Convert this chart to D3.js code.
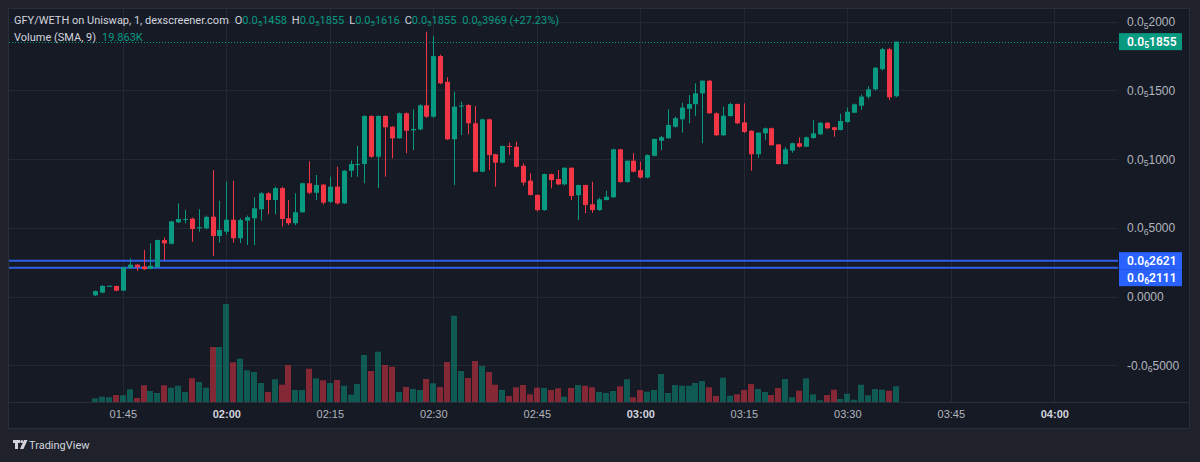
<!DOCTYPE html>
<html>
<head>
<meta charset="utf-8">
<script src="https://cdn.jsdelivr.net/npm/d3@7"></script>
<style>
  html, body { margin: 0; padding: 0; background: #1f222b; }
  svg { display: block; font-family: Roboto, "Noto Sans", "DejaVu Sans", sans-serif; }
</style>
</head>
<body>
<svg id="chart" width="1200" height="462"></svg>
<script>
// 1 minute bars, prices in units of 1e-6 WETH, volume in K
const times = [
  "01:41","01:42","01:43","01:44","01:45","01:46","01:47","01:48","01:49","01:50",
  "01:51","01:52","01:53","01:54","01:55","01:56","01:57","01:58","01:59","02:00",
  "02:01","02:02","02:03","02:04","02:05","02:06","02:07","02:08","02:09","02:10",
  "02:11","02:12","02:13","02:14","02:15","02:16","02:17","02:18","02:19","02:20",
  "02:21","02:22","02:23","02:24","02:25","02:26","02:27","02:28","02:29","02:30",
  "02:31","02:32","02:33","02:34","02:35","02:36","02:37","02:38","02:39","02:40",
  "02:41","02:42","02:43","02:44","02:45","02:46","02:47","02:48","02:49","02:50",
  "02:51","02:52","02:53","02:54","02:55","02:56","02:57","02:58","02:59","03:00",
  "03:01","03:02","03:03","03:04","03:05","03:06","03:07","03:08","03:09","03:10",
  "03:11","03:12","03:13","03:14","03:15","03:16","03:17","03:18","03:19","03:20",
  "03:21","03:22","03:23","03:24","03:25","03:26","03:27","03:28","03:29","03:30",
  "03:31","03:32","03:33","03:34","03:35","03:36","03:37"
];
const open = [
  0.010,0.030,0.078,0.078,0.044,0.208,0.233,0.220,0.203,0.214,
  0.412,0.385,0.541,0.563,0.568,0.500,0.497,0.582,0.441,0.473,
  0.560,0.425,0.553,0.570,0.636,0.752,0.703,0.790,0.570,0.534,
  0.614,0.825,0.756,0.815,0.690,0.800,0.679,0.916,0.960,0.965,
  1.314,1.018,1.314,1.236,1.152,1.334,1.210,1.217,1.392,1.309,
  1.750,1.563,1.145,1.385,1.394,1.261,0.909,1.290,1.036,0.975,
  1.096,1.090,0.952,0.844,0.740,0.630,0.892,0.856,0.817,0.938,
  0.738,0.812,0.672,0.630,0.703,0.723,1.072,0.834,0.989,0.920,
  0.866,1.025,1.134,1.152,1.236,1.290,1.367,1.400,1.479,1.571,
  1.334,1.174,1.314,1.401,1.268,1.207,1.036,1.188,1.225,1.108,
  0.965,1.062,1.116,1.091,1.154,1.181,1.265,1.232,1.212,1.270,
  1.338,1.389,1.455,1.508,1.655,1.800,1.458
];
const high = [
  0.045,0.085,0.082,0.080,0.216,0.279,0.236,0.340,0.388,0.415,
  0.430,0.550,0.679,0.630,0.575,0.636,0.590,0.921,0.698,0.836,
  0.844,0.570,0.590,0.723,0.760,0.760,0.800,0.800,0.703,0.752,
  0.830,0.985,0.885,0.820,0.873,0.945,0.920,0.990,1.096,1.320,
  1.320,1.320,1.320,1.240,1.340,1.340,1.363,1.400,1.927,1.896,
  1.760,1.596,1.490,1.418,1.400,1.387,1.295,1.295,1.040,1.100,
  1.120,1.127,0.970,0.897,0.745,0.895,0.895,0.921,0.940,0.940,
  0.815,0.815,0.836,0.720,0.771,1.075,1.075,0.990,1.043,0.982,
  1.035,1.150,1.170,1.363,1.310,1.411,1.467,1.552,1.575,1.575,
  1.340,1.382,1.410,1.405,1.406,1.210,1.195,1.230,1.230,1.110,
  1.090,1.120,1.159,1.165,1.285,1.270,1.270,1.235,1.330,1.375,
  1.405,1.470,1.530,1.670,1.810,1.810,1.855
];
const low = [
  0.005,0.025,0.075,0.040,0.040,0.205,0.187,0.195,0.200,0.210,
  0.267,0.380,0.535,0.534,0.400,0.473,0.490,0.296,0.393,0.450,
  0.393,0.390,0.376,0.376,0.553,0.600,0.600,0.510,0.520,0.520,
  0.610,0.745,0.703,0.670,0.680,0.670,0.675,0.870,0.873,0.825,
  1.010,0.790,0.873,1.007,1.150,1.043,1.067,1.210,1.300,1.300,
  1.545,1.140,0.812,1.176,1.180,0.905,0.905,0.921,0.800,0.970,
  1.030,0.940,0.809,0.735,0.620,0.625,0.788,0.810,0.810,0.703,
  0.558,0.607,0.610,0.625,0.700,0.720,0.830,0.830,0.905,0.860,
  0.860,1.020,1.067,1.150,1.230,1.193,1.261,1.314,1.116,1.330,
  1.170,1.170,1.310,1.255,1.190,0.916,1.010,1.140,1.100,0.960,
  0.960,1.047,1.085,1.088,1.150,1.178,1.220,1.164,1.210,1.265,
  1.335,1.358,1.440,1.500,1.644,1.430,1.450
];
const close = [
  0.040,0.078,0.079,0.044,0.214,0.233,0.214,0.200,0.225,0.412,
  0.388,0.548,0.565,0.565,0.492,0.505,0.580,0.441,0.485,0.560,
  0.425,0.558,0.578,0.643,0.752,0.703,0.790,0.565,0.534,0.614,
  0.825,0.756,0.812,0.684,0.800,0.679,0.916,0.965,0.965,1.314,
  1.018,1.314,1.232,1.152,1.334,1.207,1.220,1.392,1.309,1.750,
  1.552,1.145,1.382,1.390,1.261,0.909,1.290,1.030,0.975,1.096,
  1.095,0.945,0.830,0.740,0.630,0.892,0.848,0.817,0.938,0.732,
  0.812,0.667,0.630,0.708,0.727,1.072,0.834,0.989,0.909,0.866,
  1.030,1.147,1.160,1.249,1.298,1.375,1.401,1.479,1.571,1.334,
  1.174,1.316,1.401,1.261,1.198,1.036,1.193,1.225,1.101,0.965,
  1.072,1.116,1.091,1.159,1.188,1.265,1.225,1.212,1.278,1.345,
  1.399,1.455,1.508,1.665,1.800,1.450,1.855
];
const volume = [
  7.4,10.5,9.4,13.9,13.3,25.3,8.0,33.2,21.9,17.9,
  33.2,28.5,32.4,19.9,47.2,39.8,28.5,109.5,109.5,195.0,
  79.0,86.2,63.1,59.7,37.8,19.9,45.2,34.4,73.6,23.9,
  23.9,66.3,47.2,43.2,37.8,43.8,32.4,14.5,35.8,93.5,
  61.7,100.1,73.6,70.2,19.9,29.9,25.9,23.9,45.8,37.2,
  29.9,79.6,171.7,61.7,47.8,81.6,71.6,59.7,34.4,23.9,
  11.9,29.3,33.8,15.3,28.5,27.9,23.9,27.3,10.5,27.9,
  33.8,32.4,29.3,19.9,17.9,21.9,31.2,45.2,9.4,23.9,
  20.5,23.9,55.7,17.9,33.8,32.4,32.4,37.8,41.8,29.3,
  11.9,48.4,12.5,15.3,23.9,35.8,25.9,19.9,13.9,27.9,
  45.8,9.4,22.5,47.2,15.3,3.4,13.9,24.5,6.0,16.5,
  4.6,34.4,13.3,25.9,24.5,22.5,31.2
];

const timeTicks = ["01:45","02:00","02:15","02:30","02:45","03:00","03:15","03:30","03:45","04:00"];
const priceTicks = [-0.5, 0, 0.5, 1.0, 1.5, 2.0];
const priceLines = [0.2621, 0.2111];           // the two blue horizontal lines
const legendOHLC = [["O", 1.458], ["H", 1.855], ["L", 1.616], ["C", 1.855]];
const legendChange = [0.3969, 27.23];
const volSma = 19.863;

const UNIT = 1e-6;
const UP = "#089981", DOWN = "#f23645";
const UP_VOL = "rgba(8,153,129,0.5)", DOWN_VOL = "rgba(242,54,69,0.5)";
const GRID = "#242834", TEXT = "#b2b5be";

const parse = d3.timeParse("%H:%M");
const bars = times.map((t, i) => ({
  t: parse(t), o: open[i], h: high[i], l: low[i], c: close[i], v: volume[i]
}));

const pane = { left: 8, top: 8, right: 1190, bottom: 429 };
const plotRight = 1118, plotBottom = 402;

// dexscreener style 0.0₅2000 -> parts [sign+"0.0", zeros, digits]
function priceParts(v) {
  if (Math.abs(v) < 1e-15) return ["0.0000", "", ""];
  const a = Math.abs(v);
  const e = Math.floor(Math.log10(a) + 1e-9);
  const zeros = -e - 1;
  const digits = Math.round(a * Math.pow(10, zeros + 4));
  return [(v < 0 ? "-" : "") + "0.0", String(zeros), String(digits)];
}
function writePrice(textSel, v, size) {
  const [head, sub, tail] = priceParts(v);
  textSel.text(null);
  textSel.append("tspan").text(head);
  if (sub) {
    textSel.append("tspan").attr("font-size", (size * 0.72) + "px").attr("dy", 2.5).text(sub);
    textSel.append("tspan").attr("dy", -2.5).text(tail);
  }
}

const svg = d3.select("#chart");
svg.append("rect").attr("width", 1200).attr("height", 462).attr("fill", "#1f222b");
svg.append("rect")
  .attr("x", pane.left + 0.5).attr("y", pane.top + 0.5)
  .attr("width", pane.right - pane.left - 1).attr("height", pane.bottom - pane.top - 1)
  .attr("fill", "#161a25").attr("stroke", "#2a2e39");

const x = d3.scaleTime()
  .domain([parse("01:45"), parse("04:00")])
  .range([122.8, 1054.3]);
const y = d3.scaleLinear().domain([0, 2]).range([296.7, 21.7]);
const yVol = d3.scaleLinear().domain([0, 200]).range([plotBottom, plotBottom - 100.5]);

// grid
const grid = svg.append("g");
grid.selectAll(".hg").data(priceTicks).enter().append("line")
  .attr("x1", pane.left + 1).attr("x2", plotRight)
  .attr("y1", d => Math.round(y(d)) + 0.5).attr("y2", d => Math.round(y(d)) + 0.5)
  .attr("stroke", GRID);
grid.selectAll(".vg").data(timeTicks).enter().append("line")
  .attr("x1", d => Math.round(x(parse(d))) + 0.5).attr("x2", d => Math.round(x(parse(d))) + 0.5)
  .attr("y1", pane.top + 1).attr("y2", plotBottom)
  .attr("stroke", GRID);
svg.append("line")
  .attr("x1", pane.left).attr("x2", pane.right)
  .attr("y1", plotBottom + 0.5).attr("y2", plotBottom + 0.5)
  .attr("stroke", "#2a2e39");

// volume
svg.append("g").selectAll("rect").data(bars).enter().append("rect")
  .attr("x", d => Math.round(x(d.t)) - 3)
  .attr("width", 6)
  .attr("y", d => yVol(d.v))
  .attr("height", d => plotBottom - yVol(d.v))
  .attr("fill", d => d.c >= d.o ? UP_VOL : DOWN_VOL);

// blue price lines
svg.append("g").selectAll("line").data(priceLines).enter().append("line")
  .attr("x1", pane.left + 1).attr("x2", plotRight)
  .attr("y1", d => y(d)).attr("y2", d => y(d))
  .attr("stroke", "#2f5fe8").attr("stroke-width", 2);

// last price dotted line
const last = close[close.length - 1];
svg.append("line")
  .attr("x1", pane.left + 1).attr("x2", plotRight)
  .attr("y1", Math.round(y(last)) + 0.5)
  .attr("y2", Math.round(y(last)) + 0.5)
  .attr("stroke", UP).attr("stroke-dasharray", "1 2");

// candles
const candles = svg.append("g").selectAll("g").data(bars).enter().append("g");
candles.append("line")
  .attr("x1", d => Math.round(x(d.t)) + 0.5).attr("x2", d => Math.round(x(d.t)) + 0.5)
  .attr("y1", d => y(d.h)).attr("y2", d => y(d.l))
  .attr("stroke", d => d.c >= d.o ? UP : DOWN);
candles.append("rect")
  .attr("x", d => Math.round(x(d.t)) - 2)
  .attr("width", 5)
  .attr("y", d => y(Math.max(d.o, d.c)))
  .attr("height", d => Math.max(1, Math.abs(y(d.o) - y(d.c))))
  .attr("fill", d => d.c >= d.o ? UP : DOWN);

// price axis
const yAxis = d3.axisRight(y).tickValues(priceTicks).tickSize(0).tickPadding(9);
const yAxisGroup = svg.append("g").attr("transform", `translate(${plotRight},0)`).call(yAxis);
yAxisGroup.select(".domain").remove();
yAxisGroup.selectAll("text").attr("fill", TEXT).attr("font-size", "12px")
  .each(function (d) { writePrice(d3.select(this), d * UNIT, 12); });

// price labels
function priceLabel(cy, v, fill) {
  svg.append("rect").attr("x", 1119).attr("y", cy - 8.5).attr("width", 63).attr("height", 17).attr("fill", fill);
  const t = svg.append("text").attr("x", 1127).attr("y", cy + 4.3)
    .attr("fill", "#ffffff").attr("font-size", "12px").attr("font-weight", 600);
  writePrice(t, v * UNIT, 12);
}
priceLabel(y(last), last, UP);
const l1 = y(priceLines[0]);
const l2 = Math.max(y(priceLines[1]), l1 + 17);
priceLabel(l1, priceLines[0], "#2962ff");
priceLabel(l2, priceLines[1], "#2962ff");

// time axis
const xAxis = d3.axisBottom(x).tickValues(timeTicks.map(parse)).tickSize(0).tickPadding(8)
  .tickFormat(d3.timeFormat("%H:%M"));
const xAxisGroup = svg.append("g").attr("transform", `translate(0,${plotBottom})`).call(xAxis);
xAxisGroup.select(".domain").remove();
xAxisGroup.selectAll("text")
  .attr("font-size", "11px")
  .attr("fill", d => d.getMinutes() === 0 ? "#d1d4dc" : TEXT)
  .attr("font-weight", d => d.getMinutes() === 0 ? 700 : 400);

// legend
const leg1 = svg.append("text").attr("x", 14).attr("y", 24).attr("font-size", "11px");
leg1.append("tspan").attr("fill", "#d1d4dc").text("GFY/WETH on Uniswap, 1, dexscreener.com");
function legendPrice(v, dx) {
  const [head, sub, tail] = priceParts(v * UNIT);
  leg1.append("tspan").attr("fill", UP).attr("dx", dx || 0).text(head);
  leg1.append("tspan").attr("fill", UP).attr("font-size", "8px").attr("dy", 2).text(sub);
  leg1.append("tspan").attr("fill", UP).attr("dy", -2).text(tail);
}
legendOHLC.forEach(([k, v], i) => {
  leg1.append("tspan").attr("fill", "#d1d4dc").attr("dx", i === 0 ? 6 : 5).text(k);
  legendPrice(v);
});
legendPrice(legendChange[0], 6);
leg1.append("tspan").attr("fill", UP).text(` (+${legendChange[1].toFixed(2)}%)`);

const leg2 = svg.append("text").attr("x", 14).attr("y", 41).attr("font-size", "11px");
leg2.append("tspan").attr("fill", "#d1d4dc").text("Volume (SMA, 9)");
leg2.append("tspan").attr("fill", UP).attr("dx", 6).text(volSma.toFixed(3) + "K");

// TradingView mark
const logo = svg.append("g").attr("fill", "#d1d4dc");
logo.append("path").attr("d", "M13,440 h7 v3 h-2 v6 h-3 v-6 h-2 z");
logo.append("circle").attr("cx", 21.8).attr("cy", 441.5).attr("r", 1.5);
logo.append("path").attr("d", "M24,440 h3.5 l-4,9 h-3.5 z");
svg.append("text").attr("x", 29).attr("y", 448.5).attr("font-size", "11px")
  .attr("fill", "#d1d4dc").text("TradingView");
</script>
</body>
</html>
